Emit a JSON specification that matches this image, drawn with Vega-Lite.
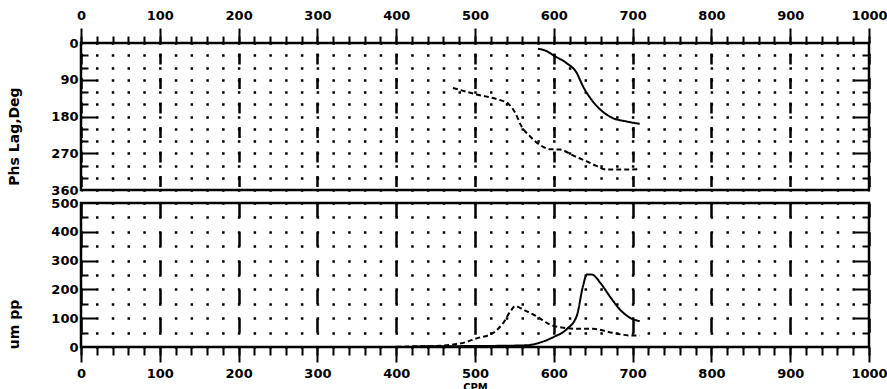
{
  "$schema": "https://vega.github.io/schema/vega-lite/v6.json",
  "background": "white",
  "padding": {"left": 5, "top": 7, "right": 0, "bottom": 0},
  "spacing": 13,
  "bounds": "flush",
  "config": {
    "view": {"stroke": "black", "strokeWidth": 2.5},
    "axis": {
      "labelFont": "DejaVu Sans", "labelFontWeight": "bold", "labelFontSize": 13, "labelColor": "black",
      "tickColor": "black", "tickWidth": 2, "domain": false, "grid": false,
      "titleFont": "DejaVu Sans", "titleFontWeight": "bold", "titleColor": "black", "titleFontSize": 14,
      "labelOverlap": false, "labelFlush": false
    }
  },
  "datasets": {
    "phase": [
      {"cpm": 580, "deg": 14, "series": "A"},
      {"cpm": 591, "deg": 20, "series": "A"},
      {"cpm": 601, "deg": 32, "series": "A"},
      {"cpm": 616, "deg": 49, "series": "A"},
      {"cpm": 629, "deg": 73, "series": "A"},
      {"cpm": 637, "deg": 106, "series": "A"},
      {"cpm": 646, "deg": 134, "series": "A"},
      {"cpm": 659, "deg": 163, "series": "A"},
      {"cpm": 675, "deg": 184, "series": "A"},
      {"cpm": 692, "deg": 192, "series": "A"},
      {"cpm": 709, "deg": 198, "series": "A"},
      {"cpm": 472, "deg": 110, "series": "B"},
      {"cpm": 502, "deg": 126, "series": "B"},
      {"cpm": 532, "deg": 140, "series": "B"},
      {"cpm": 542, "deg": 148, "series": "B"},
      {"cpm": 551, "deg": 171, "series": "B"},
      {"cpm": 559, "deg": 204, "series": "B"},
      {"cpm": 570, "deg": 229, "series": "B"},
      {"cpm": 582, "deg": 249, "series": "B"},
      {"cpm": 595, "deg": 260, "series": "B"},
      {"cpm": 608, "deg": 261, "series": "B"},
      {"cpm": 625, "deg": 276, "series": "B"},
      {"cpm": 642, "deg": 290, "series": "B"},
      {"cpm": 654, "deg": 301, "series": "B"},
      {"cpm": 667, "deg": 310, "series": "B"},
      {"cpm": 684, "deg": 310, "series": "B"},
      {"cpm": 709, "deg": 309, "series": "B"}
    ],
    "amp": [
      {"cpm": 420, "um": 2, "series": "A"},
      {"cpm": 480, "um": 3, "series": "A"},
      {"cpm": 530, "um": 4, "series": "A"},
      {"cpm": 566, "um": 6, "series": "A"},
      {"cpm": 582, "um": 15, "series": "A"},
      {"cpm": 600, "um": 35, "series": "A"},
      {"cpm": 616, "um": 61, "series": "A"},
      {"cpm": 629, "um": 107, "series": "A"},
      {"cpm": 637, "um": 211, "series": "A"},
      {"cpm": 642, "um": 252, "series": "A"},
      {"cpm": 648, "um": 252, "series": "A"},
      {"cpm": 659, "um": 223, "series": "A"},
      {"cpm": 671, "um": 176, "series": "A"},
      {"cpm": 684, "um": 130, "series": "A"},
      {"cpm": 697, "um": 101, "series": "A"},
      {"cpm": 709, "um": 90, "series": "A"},
      {"cpm": 400, "um": 1, "series": "B"},
      {"cpm": 443, "um": 3, "series": "B"},
      {"cpm": 481, "um": 12, "series": "B"},
      {"cpm": 502, "um": 30, "series": "B"},
      {"cpm": 523, "um": 49, "series": "B"},
      {"cpm": 536, "um": 84, "series": "B"},
      {"cpm": 545, "um": 124, "series": "B"},
      {"cpm": 551, "um": 142, "series": "B"},
      {"cpm": 561, "um": 130, "series": "B"},
      {"cpm": 578, "um": 107, "series": "B"},
      {"cpm": 595, "um": 78, "series": "B"},
      {"cpm": 612, "um": 67, "series": "B"},
      {"cpm": 633, "um": 63, "series": "B"},
      {"cpm": 650, "um": 63, "series": "B"},
      {"cpm": 675, "um": 49, "series": "B"},
      {"cpm": 697, "um": 40, "series": "B"},
      {"cpm": 709, "um": 40, "series": "B"}
    ]
  },
  "vconcat": [
    {
      "width": 788, "height": 147,
      "data": {"name": "phase"},
      "resolve": {"axis": {"x": "independent", "y": "independent"}},
      "layer": [
        {
          "mark": {"type": "line", "color": "black", "strokeWidth": 2, "interpolate": "monotone"},
          "encoding": {
            "x": {"field": "cpm", "type": "quantitative", "scale": {"domain": [0, 1000]},
              "axis": {"orient": "top", "values": [0,100,200,300,400,500,600,700,800,900,1000], "format": "d", "tickSize": 15, "labelPadding": 6, "title": null,
                "grid": true, "gridColor": "black", "gridWidth": 2.5, "gridDash": [11, 13.5], "gridDashOffset": 14.5}},
            "y": {"field": "deg", "type": "quantitative", "scale": {"domain": [0, 360], "reverse": true},
              "axis": {"orient": "left", "values": [0,30,60,90,120,150,180,210,240,270,300,330,360], "ticks": false, "labelPadding": 3,
                "labelExpr": "datum.value % 90 == 0 ? datum.label : ''",
                "grid": true, "gridColor": "black", "gridWidth": 2.5, "gridDash": [2.5, 13.26], "gridDashOffset": 1.25,
                "title": "Phs Lag,Deg", "titleX": -67, "titleY": 93, "titleBaseline": "middle", "titleAlign": "center", "titleAngle": -90}},
            "strokeDash": {"field": "series", "type": "nominal", "scale": {"domain": ["A", "B"], "range": [[1, 0], [5, 3]]}, "legend": null}
          }
        },
        {
          "mark": {"type": "point", "opacity": 0},
          "encoding": {
            "x": {"field": "cpm", "type": "quantitative", "scale": {"domain": [0, 1000]},
              "axis": {"orient": "top", "values": [0,20,40,60,80,100,120,140,160,180,200,220,240,260,280,300,320,340,360,380,400,420,440,460,480,500,520,540,560,580,600,620,640,660,680,700,720,740,760,780,800,820,840,860,880,900,920,940,960,980,1000], "tickSize": 7, "labels": false, "title": null}},
            "y": {"field": "deg", "type": "quantitative", "scale": {"domain": [0, 360], "reverse": true},
              "axis": {"orient": "left", "values": [90,180,270], "offset": -15, "tickSize": 15, "labels": false, "title": null}}
          }
        },
        {
          "mark": {"type": "point", "opacity": 0},
          "encoding": {
            "x": {"field": "cpm", "type": "quantitative", "scale": {"domain": [0, 1000]}, "axis": null},
            "y": {"field": "deg", "type": "quantitative", "scale": {"domain": [0, 360], "reverse": true},
              "axis": {"orient": "left", "values": [30,60,120,150,210,240,300,330], "offset": -7, "tickSize": 7, "labels": false, "title": null}}
          }
        },
        {
          "mark": {"type": "point", "opacity": 0},
          "encoding": {
            "x": {"field": "cpm", "type": "quantitative", "scale": {"domain": [0, 1000]}, "axis": null},
            "y": {"field": "deg", "type": "quantitative", "scale": {"domain": [0, 360], "reverse": true},
              "axis": {"orient": "right", "values": [90,180,270], "offset": -15, "tickSize": 15, "labels": false, "title": null}}
          }
        },
        {
          "mark": {"type": "point", "opacity": 0},
          "encoding": {
            "x": {"field": "cpm", "type": "quantitative", "scale": {"domain": [0, 1000]}, "axis": null},
            "y": {"field": "deg", "type": "quantitative", "scale": {"domain": [0, 360], "reverse": true},
              "axis": {"orient": "right", "values": [30,60,120,150,210,240,300,330], "offset": -7, "tickSize": 7, "labels": false, "title": null}}
          }
        }
      ]
    },
    {
      "width": 788, "height": 144,
      "data": {"name": "amp"},
      "resolve": {"axis": {"x": "independent", "y": "independent"}},
      "layer": [
        {
          "mark": {"type": "line", "color": "black", "strokeWidth": 2, "interpolate": "monotone"},
          "encoding": {
            "x": {"field": "cpm", "type": "quantitative", "scale": {"domain": [0, 1000]},
              "axis": {"orient": "bottom", "values": [0,100,200,300,400,500,600,700,800,900,1000], "format": "d", "tickSize": 15, "labelPadding": 5,
                "grid": true, "gridColor": "black", "gridWidth": 2.5, "gridDash": [14, 14.8], "gridDashOffset": 0,
                "title": "CPM", "titleFontSize": 10, "titlePadding": 2}},
            "y": {"field": "um", "type": "quantitative", "scale": {"domain": [0, 500]},
              "axis": {"orient": "left", "values": [0,50,100,150,200,250,300,350,400,450,500], "ticks": false, "labelPadding": 3,
                "labelExpr": "datum.value % 100 == 0 ? datum.label : ''",
                "grid": true, "gridColor": "black", "gridWidth": 2.5, "gridDash": [2.5, 13.26], "gridDashOffset": 1.25,
                "title": "um pp", "titleX": -67, "titleY": 121, "titleBaseline": "middle", "titleAlign": "center", "titleAngle": -90}},
            "strokeDash": {"field": "series", "type": "nominal", "scale": {"domain": ["A", "B"], "range": [[1, 0], [5, 3]]}, "legend": null}
          }
        },
        {
          "mark": {"type": "point", "opacity": 0},
          "encoding": {
            "x": {"field": "cpm", "type": "quantitative", "scale": {"domain": [0, 1000]},
              "axis": {"orient": "bottom", "values": [0,20,40,60,80,100,120,140,160,180,200,220,240,260,280,300,320,340,360,380,400,420,440,460,480,500,520,540,560,580,600,620,640,660,680,700,720,740,760,780,800,820,840,860,880,900,920,940,960,980,1000], "tickSize": 8, "labels": false, "title": null}},
            "y": {"field": "um", "type": "quantitative", "scale": {"domain": [0, 500]},
              "axis": {"orient": "left", "values": [100,200,300,400], "offset": -15, "tickSize": 15, "labels": false, "title": null}}
          }
        },
        {
          "mark": {"type": "point", "opacity": 0},
          "encoding": {
            "x": {"field": "cpm", "type": "quantitative", "scale": {"domain": [0, 1000]}, "axis": null},
            "y": {"field": "um", "type": "quantitative", "scale": {"domain": [0, 500]},
              "axis": {"orient": "left", "values": [50,150,250,350,450], "offset": -7, "tickSize": 7, "labels": false, "title": null}}
          }
        },
        {
          "mark": {"type": "point", "opacity": 0},
          "encoding": {
            "x": {"field": "cpm", "type": "quantitative", "scale": {"domain": [0, 1000]}, "axis": null},
            "y": {"field": "um", "type": "quantitative", "scale": {"domain": [0, 500]},
              "axis": {"orient": "right", "values": [100,200,300,400], "offset": -15, "tickSize": 15, "labels": false, "title": null}}
          }
        },
        {
          "mark": {"type": "point", "opacity": 0},
          "encoding": {
            "x": {"field": "cpm", "type": "quantitative", "scale": {"domain": [0, 1000]}, "axis": null},
            "y": {"field": "um", "type": "quantitative", "scale": {"domain": [0, 500]},
              "axis": {"orient": "right", "values": [50,150,250,350,450], "offset": -7, "tickSize": 7, "labels": false, "title": null}}
          }
        }
      ]
    }
  ]
}
